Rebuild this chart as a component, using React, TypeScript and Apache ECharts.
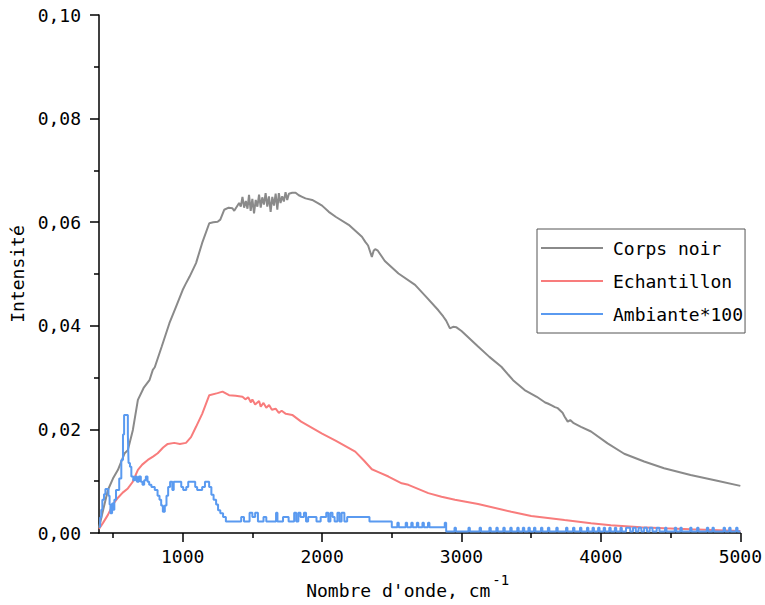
import React, { useEffect, useRef } from 'react';
import * as echarts from 'echarts';

const FONT = '"DejaVu Sans Mono", "Liberation Mono", monospace';

const seriesNames = ['Corps noir', 'Echantillon', 'Ambiante*100'];
const seriesColors = ['#8a8a8a', '#f87c7c', '#5a9af0'];

const xMajorTicks = [1000, 2000, 3000, 4000, 5000];
const xMinorTicks = [500, 1500, 2500, 3500, 4500];

const corpsNoir: [number, number][] = [
  [400, 0.001], [430, 0.0045], [464, 0.0083], [500, 0.0105], [536, 0.0122], [584, 0.0154],
  [607, 0.016], [643, 0.0199], [679, 0.0257], [720, 0.028], [762, 0.0295], [786, 0.0315],
  [800, 0.032], [850, 0.036], [905, 0.0405], [950, 0.0435], [1000, 0.0469], [1020, 0.048],
  [1050, 0.0495], [1096, 0.0521], [1140, 0.056], [1191, 0.0598], [1220, 0.06], [1251, 0.0601],
  [1270, 0.0605], [1298, 0.0624], [1330, 0.0628], [1357, 0.0627], [1370, 0.0622], [1405, 0.0637],
  [1417, 0.063], [1429, 0.0649], [1441, 0.0628], [1453, 0.0641], [1465, 0.0626], [1476, 0.0653],
  [1488, 0.0622], [1500, 0.0645], [1512, 0.0617], [1524, 0.0643], [1536, 0.063], [1548, 0.0653],
  [1560, 0.0628], [1571, 0.0648], [1583, 0.0634], [1595, 0.0656], [1607, 0.063], [1619, 0.065],
  [1631, 0.062], [1643, 0.0649], [1655, 0.0632], [1667, 0.0655], [1679, 0.0624], [1690, 0.0656],
  [1702, 0.0637], [1714, 0.065], [1726, 0.064], [1738, 0.0658], [1750, 0.0643], [1762, 0.0655],
  [1786, 0.0657], [1810, 0.0657], [1833, 0.0652], [1857, 0.0649], [1881, 0.0646], [1929, 0.0643],
  [1970, 0.0637], [2000, 0.0632], [2048, 0.062], [2100, 0.061], [2191, 0.0595], [2286, 0.0572],
  [2310, 0.0562], [2330, 0.0555], [2357, 0.0533], [2370, 0.0545], [2381, 0.0548], [2400, 0.0545],
  [2450, 0.0525], [2548, 0.0501], [2667, 0.0479], [2750, 0.0455], [2834, 0.043], [2869, 0.0418],
  [2890, 0.041], [2917, 0.0395], [2940, 0.0398], [2964, 0.0397], [3000, 0.039], [3119, 0.036],
  [3200, 0.034], [3286, 0.0321], [3370, 0.0295], [3453, 0.0276], [3540, 0.0263], [3600, 0.0252],
  [3619, 0.025], [3650, 0.0246], [3670, 0.0243], [3691, 0.0241], [3710, 0.0236], [3725, 0.0232],
  [3739, 0.0225], [3762, 0.0215], [3780, 0.0218], [3805, 0.0212], [3857, 0.0205], [3929, 0.0196],
  [4048, 0.0173], [4167, 0.0153], [4310, 0.0138], [4453, 0.0125], [4643, 0.0112], [4834, 0.0101],
  [5000, 0.0091],
];

const echantillon: [number, number][] = [
  [400, 0.0008], [430, 0.002], [464, 0.0035], [500, 0.0055], [536, 0.0068], [570, 0.0078],
  [607, 0.0086], [640, 0.0098], [679, 0.0122], [710, 0.0132], [750, 0.0141], [790, 0.0148],
  [821, 0.0154], [860, 0.0165], [893, 0.0172], [940, 0.0174], [980, 0.0172], [1024, 0.0174],
  [1060, 0.0185], [1096, 0.0205], [1140, 0.023], [1191, 0.0266], [1250, 0.027], [1286, 0.0273],
  [1333, 0.0266], [1380, 0.0265], [1429, 0.0263], [1450, 0.0258], [1470, 0.0262], [1490, 0.0252],
  [1500, 0.0258], [1520, 0.0248], [1548, 0.0255], [1560, 0.0244], [1580, 0.0251], [1600, 0.0242],
  [1620, 0.0247], [1640, 0.0238], [1667, 0.024], [1690, 0.0232], [1710, 0.0236], [1740, 0.023],
  [1786, 0.0228], [1850, 0.0215], [2000, 0.0192], [2100, 0.0178], [2238, 0.0157], [2300, 0.014],
  [2357, 0.0123], [2400, 0.0118], [2476, 0.0109], [2571, 0.0096], [2619, 0.0093], [2762, 0.0077],
  [2857, 0.007], [2953, 0.0064], [3119, 0.0056], [3357, 0.0041], [3500, 0.0033], [3739, 0.0025],
  [3929, 0.0019], [4071, 0.0015], [4286, 0.0011], [4453, 0.0009], [4643, 0.0007], [5000, 0.0004],
];

const ambiante: [number, number][] = [
  [400, 0.0012], [408, 0.003], [416, 0.0045], [424, 0.0064], [436, 0.0075], [446, 0.0085],
  [468, 0.0072], [476, 0.0055], [482, 0.0038], [494, 0.0057], [502, 0.0045], [510, 0.0064],
  [522, 0.0083], [545, 0.0105], [560, 0.0141], [572, 0.019], [580, 0.0228], [607, 0.019],
  [612, 0.0135], [622, 0.0128], [632, 0.0109], [646, 0.0102], [660, 0.0109], [672, 0.0099],
  [686, 0.0109], [700, 0.0099], [712, 0.0093], [724, 0.0102], [736, 0.0109], [748, 0.0099],
  [760, 0.0093], [776, 0.0089], [800, 0.0083], [820, 0.0072], [834, 0.0064], [846, 0.0053],
  [858, 0.0041], [872, 0.0053], [884, 0.0072], [896, 0.0089], [910, 0.0099], [926, 0.0083],
  [936, 0.0099], [990, 0.0089], [1004, 0.0083], [1026, 0.0089], [1040, 0.0099], [1090, 0.0089],
  [1104, 0.0083], [1140, 0.0089], [1160, 0.0099], [1190, 0.0089], [1206, 0.0074], [1222, 0.0064],
  [1240, 0.0055], [1254, 0.0044], [1270, 0.0038], [1290, 0.0031], [1310, 0.0022], [1360, 0.0022],
  [1420, 0.0031], [1440, 0.0022], [1480, 0.0039], [1500, 0.0031], [1520, 0.0039], [1540, 0.0022],
  [1580, 0.0031], [1600, 0.0022], [1670, 0.0039], [1680, 0.0022], [1720, 0.0031], [1760, 0.0022],
  [1800, 0.0039], [1815, 0.0022], [1830, 0.0039], [1845, 0.0031], [1870, 0.0039], [1885, 0.0022],
  [1900, 0.0031], [1960, 0.0022], [1990, 0.0031], [2030, 0.0039], [2045, 0.0022], [2060, 0.0039],
  [2075, 0.0031], [2090, 0.0022], [2110, 0.0039], [2125, 0.0022], [2140, 0.0039], [2160, 0.0022],
  [2180, 0.0031], [2300, 0.0031], [2340, 0.0022], [2500, 0.0011], [2540, 0.002], [2550, 0.0011],
  [2600, 0.002], [2610, 0.0011], [2640, 0.002], [2650, 0.0011], [2680, 0.002], [2690, 0.0011],
  [2720, 0.002], [2730, 0.0011], [2760, 0.002], [2770, 0.0011], [2880, 0.002], [2890, 0.0003],
  [2950, 0.001], [2960, 0.0003], [3050, 0.001], [3060, 0.0003], [3130, 0.001], [3140, 0.0003],
  [3200, 0.001], [3210, 0.0003], [3250, 0.001], [3260, 0.0003], [3300, 0.001], [3310, 0.0003],
  [3350, 0.001], [3360, 0.0003], [3400, 0.001], [3410, 0.0003], [3440, 0.001], [3450, 0.0003],
  [3480, 0.001], [3490, 0.0003], [3520, 0.001], [3530, 0.0003], [3570, 0.001], [3580, 0.0003],
  [3620, 0.001], [3630, 0.0003], [3680, 0.001], [3690, 0.0003], [3750, 0.001], [3760, 0.0003],
  [3800, 0.001], [3810, 0.0003], [3850, 0.001], [3860, 0.0003], [3900, 0.001], [3910, 0.0003],
  [3940, 0.001], [3950, 0.0003], [3980, 0.001], [3990, 0.0003], [4020, 0.001], [4030, 0.0003],
  [4060, 0.001], [4070, 0.0003], [4100, 0.001], [4110, 0.0003], [4140, 0.001], [4150, 0.0003],
  [4180, 0.001], [4210, 0.0003], [4230, 0.001], [4250, 0.0003], [4270, 0.001], [4290, 0.0003],
  [4310, 0.001], [4330, 0.0003], [4350, 0.001], [4370, 0.0003], [4400, 0.001], [4420, 0.0003],
  [4460, 0.001], [4470, 0.0003], [4530, 0.001], [4540, 0.0003], [4570, 0.001], [4580, 0.0003],
  [4640, 0.001], [4650, 0.0003], [4690, 0.001], [4700, 0.0003], [4760, 0.001], [4770, 0.0003],
  [4800, 0.001], [4810, 0.0003], [4880, 0.001], [4890, 0.0003], [4920, 0.001], [4930, 0.0003],
  [4970, 0.001], [4980, 0.0003], [5000, 0.0003],
];

export default function App() {
  const ref = useRef<HTMLDivElement>(null);
  useEffect(() => {
    const chart = echarts.init(ref.current as HTMLDivElement, null, { renderer: 'svg', width: 765, height: 605 });
    const axisText = { fontFamily: FONT, fontSize: 18, color: '#000' };
    chart.setOption({
      animation: false,
      backgroundColor: '#ffffff',
      grid: { left: 99, right: 22, top: 15, bottom: 72, containLabel: false },
      legend: {
        orient: 'vertical',
        left: 537,
        top: 229,
        padding: [9, 2, 9, 4],
        itemGap: 13,
        itemWidth: 62,
        itemHeight: 2,
        icon: 'rect',
        borderColor: '#555',
        borderWidth: 1,
        backgroundColor: '#fff',
        data: seriesNames,
        textStyle: { fontFamily: FONT, fontSize: 18, color: '#000', lineHeight: 20, padding: [0, 0, 0, 5] },
      },
      xAxis: [
        {
          type: 'value',
          min: 400,
          max: 5000,
          name: "{a|Nombre d'onde, cm}{sup|-1}",
          nameLocation: 'middle',
          nameGap: 40,
          nameTextStyle: {
            padding: [0, 24, 0, 0],
            rich: {
              a: { fontFamily: FONT, fontSize: 18, color: '#000', verticalAlign: 'bottom' },
              sup: { fontFamily: FONT, fontSize: 14, color: '#000', verticalAlign: 'bottom', padding: [0, 0, 12, 2] },
            },
          },
          axisLine: { show: true, lineStyle: { color: '#000', width: 1.5 } },
          axisTick: { show: true, length: 9, customValues: xMajorTicks, lineStyle: { color: '#000', width: 1.5 } },
          axisLabel: { ...axisText, margin: 14, customValues: xMajorTicks, formatter: (v: number) => String(v) },
          splitLine: { show: false },
        },
        {
          type: 'value',
          min: 400,
          max: 5000,
          position: 'bottom',
          axisLine: { show: false },
          axisTick: { show: true, length: 5, customValues: xMinorTicks, lineStyle: { color: '#000', width: 1.5 } },
          axisLabel: { show: false },
          splitLine: { show: false },
        },
      ],
      yAxis: {
        type: 'value',
        min: 0,
        max: 0.1,
        interval: 0.02,
        name: 'Intensité',
        nameLocation: 'middle',
        nameGap: 69,
        nameTextStyle: { fontFamily: FONT, fontSize: 18, color: '#000' },
        axisLine: { show: true, lineStyle: { color: '#000', width: 1.5 } },
        axisTick: { show: true, length: 9, lineStyle: { color: '#000', width: 1.5 } },
        minorTick: { show: true, splitNumber: 2, length: 5, lineStyle: { color: '#000', width: 1.5 } },
        axisLabel: { ...axisText, margin: 18, formatter: (v: number) => v.toFixed(2).replace('.', ',') },
        splitLine: { show: false },
        minorSplitLine: { show: false },
      },
      series: [
        {
          name: seriesNames[0], type: 'line', data: corpsNoir, showSymbol: false, symbol: 'none',
          lineStyle: { color: seriesColors[0], width: 2 }, itemStyle: { color: seriesColors[0] }, z: 3,
        },
        {
          name: seriesNames[1], type: 'line', data: echantillon, showSymbol: false, symbol: 'none',
          lineStyle: { color: seriesColors[1], width: 2 }, itemStyle: { color: seriesColors[1] }, z: 2,
        },
        {
          name: seriesNames[2], type: 'line', data: ambiante, showSymbol: false, symbol: 'none', step: 'end',
          lineStyle: { color: seriesColors[2], width: 2 }, itemStyle: { color: seriesColors[2] }, z: 4,
        },
      ],
    });
    return () => chart.dispose();
  }, []);
  return (
    <div
      ref={ref}
      style={{ position: 'fixed', left: 0, top: 0, width: 765, height: 605, background: '#fff' }}
    />
  );
}
